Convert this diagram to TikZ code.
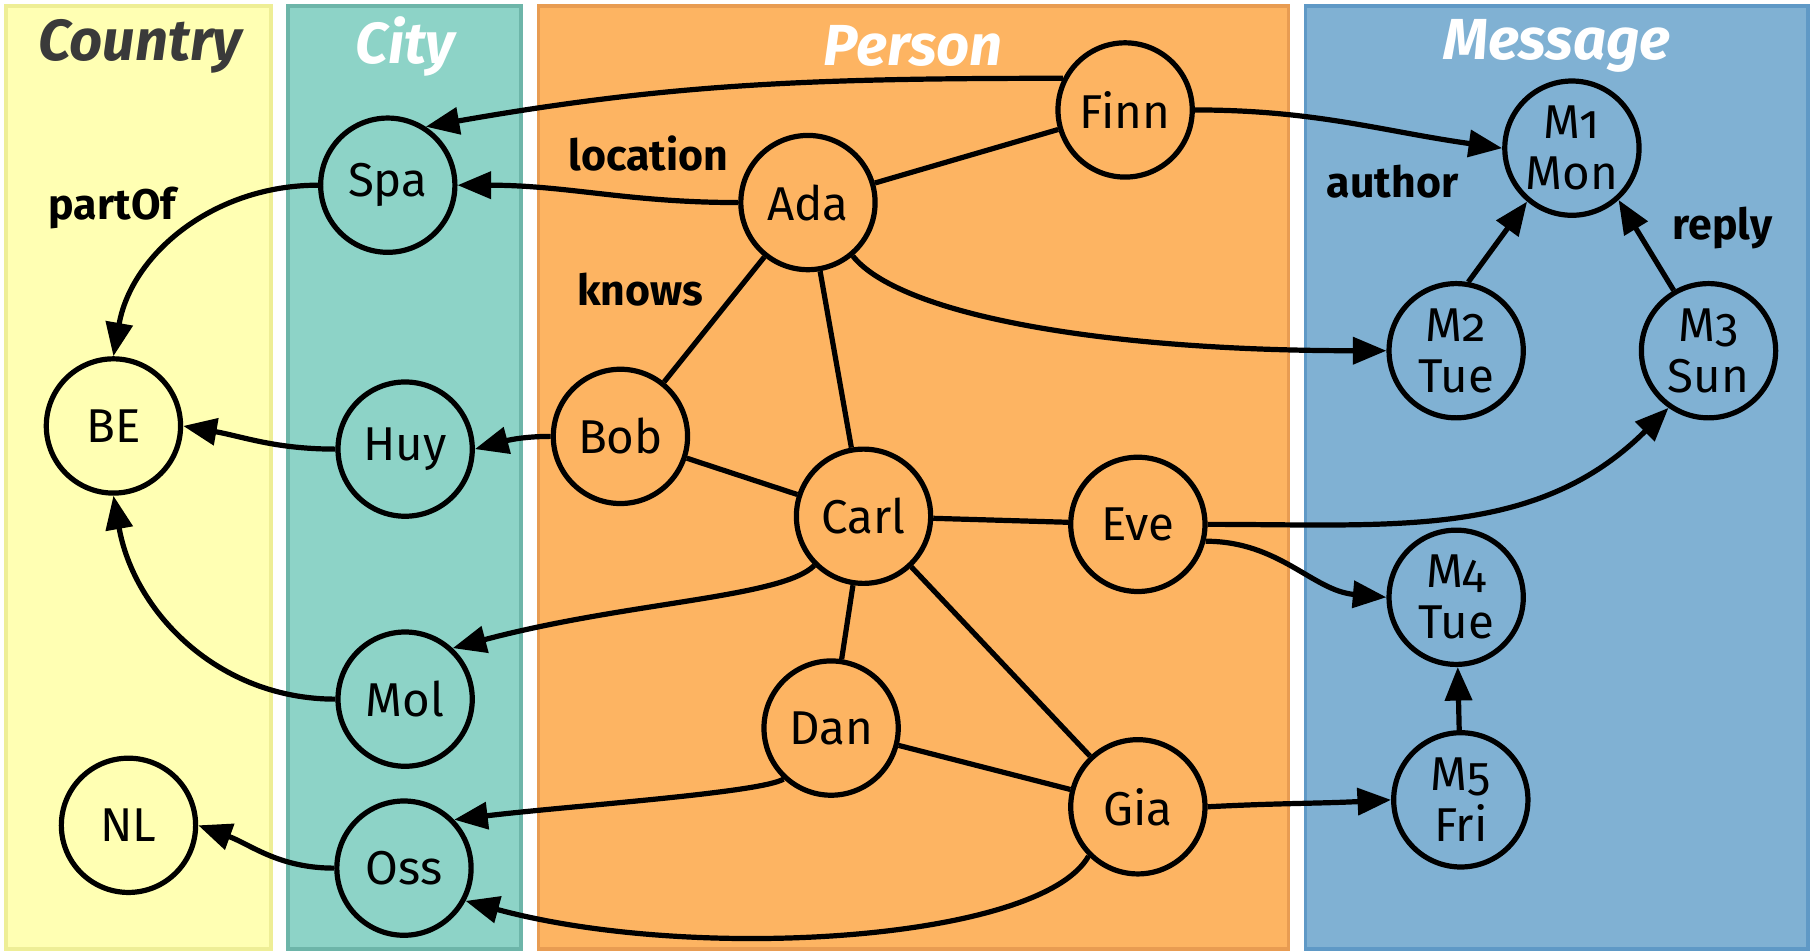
\documentclass[tikz,border=0pt]{standalone}
\usepackage{fontspec}
\setmainfont{Fira Sans}
\newfontfamily\nodefont[Numbers=OldStyle]{Fira Sans}
\usetikzlibrary{arrows.meta}

\definecolor{cntfill}{HTML}{FFFFB3}
\definecolor{cntline}{HTML}{EEEE96}
\definecolor{cityfill}{HTML}{8DD3C7}
\definecolor{cityline}{HTML}{6DB5A9}
\definecolor{perfill}{HTML}{FDB462}
\definecolor{perline}{HTML}{E89C52}
\definecolor{msgfill}{HTML}{80B1D3}
\definecolor{msgline}{HTML}{5F99C6}
\definecolor{cnttext}{HTML}{3A3A3A}

\tikzset{
  panel/.style={line width=3pt},
  vertex/.style={circle, draw=black, line width=4.5pt, minimum size=116pt, inner sep=0pt,
    align=center, font=\nodefont\fontsize{41}{44}\selectfont},
  header/.style={font=\bfseries\itshape\fontsize{50}{54}\selectfont},
  elabel/.style={font=\bfseries\fontsize{37}{40}\selectfont},
  edge/.style={line width=4.5pt},
  arc/.style={line width=4.5pt, -{Triangle[length=29pt,width=23pt]}},
}

\begin{document}
\begin{tikzpicture}[x=1pt,y=1pt]
\useasboundingbox (0,0) rectangle (1568,822);

% swim lanes
\draw[panel, fill=cntfill, draw=cntline] (5,2) rectangle (234,817);
\draw[panel, fill=cityfill, draw=cityline] (249,2) rectangle (450,817);
\draw[panel, fill=perfill, draw=perline] (465,2) rectangle (1113,817);
\draw[panel, fill=msgfill, draw=msgline] (1128,2) rectangle (1562,817);

\node[header, text=cnttext] (hCountry) at (121,782) {Country};
\node[header, text=white] (hCity) at (350,782) {City};
\node[header, text=white] (hPerson) at (789,782) {Person};
\node[header, text=white] (hMessage) at (1345,782) {Message};

% countries
\node[vertex, fill=cntfill] (BE) at (98,454) {BE};
\node[vertex, fill=cntfill] (NL) at (111,109) {NL};
% cities
\node[vertex, fill=cityfill] (Spa) at (335,662) {Spa};
\node[vertex, fill=cityfill] (Huy) at (350,434) {Huy};
\node[vertex, fill=cityfill] (Mol) at (350,218) {Mol};
\node[vertex, fill=cityfill] (Oss) at (349,72) {Oss};
% persons
\node[vertex, fill=perfill] (Finn) at (972,727) {Finn};
\node[vertex, fill=perfill] (Ada) at (698,647) {Ada};
\node[vertex, fill=perfill] (Bob) at (536,445) {Bob};
\node[vertex, fill=perfill] (Carl) at (746,376) {Carl};
\node[vertex, fill=perfill] (Eve) at (983,369) {Eve};
\node[vertex, fill=perfill] (Dan) at (718,193) {Dan};
\node[vertex, fill=perfill] (Gia) at (983,125) {Gia};
% messages
\node[vertex, fill=msgfill] (M1) at (1358,694) {M1\\Mon};
\node[vertex, fill=msgfill] (M2) at (1258,519) {M2\\Tue};
\node[vertex, fill=msgfill] (M3) at (1476,519) {M3\\Sun};
\node[vertex, fill=msgfill] (M4) at (1258,306) {M4\\Tue};
\node[vertex, fill=msgfill] (M5) at (1262,131) {M5\\Fri};

% edge labels
\node[elabel] (lPart) at (97,642) {partOf};
\node[elabel] (lLoc) at (560,689) {location};
\node[elabel] (lKnows) at (553,572) {knows};
\node[elabel] (lAuthor) at (1203,665) {author};
\node[elabel] (lReply) at (1488,625) {reply};

% partOf
\draw[arc] (Spa.west) to[out=180,in=80] (BE.north);
\draw[arc] (Huy.west) to[out=180,in=-10] (BE.east);
\draw[arc] (Mol.west) to[out=180,in=-80] (BE.south);
\draw[arc] (Oss.west) to[out=180,in=-20] (NL.east);

% location
\draw[arc] (Finn.153) to[out=180,in=10] (Spa.57);
\draw[arc] (Ada.west) to[out=180,in=0] (Spa.east);
\draw[arc] (Bob.west) to[out=180,in=15] (Huy.east);
\draw[arc] (Carl.225) .. controls +(-28,-28) and +(150,40) .. (Mol.47);
\draw[arc] (Dan.227) .. controls +(-20,-12) and +(100,12) .. (Oss.44);
\draw[arc] (Gia.225) .. controls +(-41,-73) and +(199,-54) .. (Oss.-28);

% knows
\draw[edge] (Ada) -- (Finn);
\draw[edge] (Bob) -- (Ada);
\draw[edge] (Bob) -- (Carl);
\draw[edge] (Ada) -- (Carl);
\draw[edge] (Carl) -- (Eve);
\draw[edge] (Carl) -- (Dan);
\draw[edge] (Carl) -- (Gia);
\draw[edge] (Dan) -- (Gia);

% author
\draw[arc] (Finn.east) to[out=0,in=172] (M1.west);
\draw[arc] (Ada.-50) .. controls +(40,-50) and +(-250,0) .. (M2.west);
\draw[arc] (Eve.east) to[out=0,in=225] (M3.-125);
\draw[arc] (Eve.-14) to[out=0,in=175] (M4.west);
\draw[arc] (Gia.east) to[out=3,in=183] (M5.west);

% reply
\draw[arc] (M2.80) -- (M1.-130);
\draw[arc] (M3.120) -- (M1.-48);
\draw[arc] (M5) -- (M4);
\end{tikzpicture}
\end{document}
